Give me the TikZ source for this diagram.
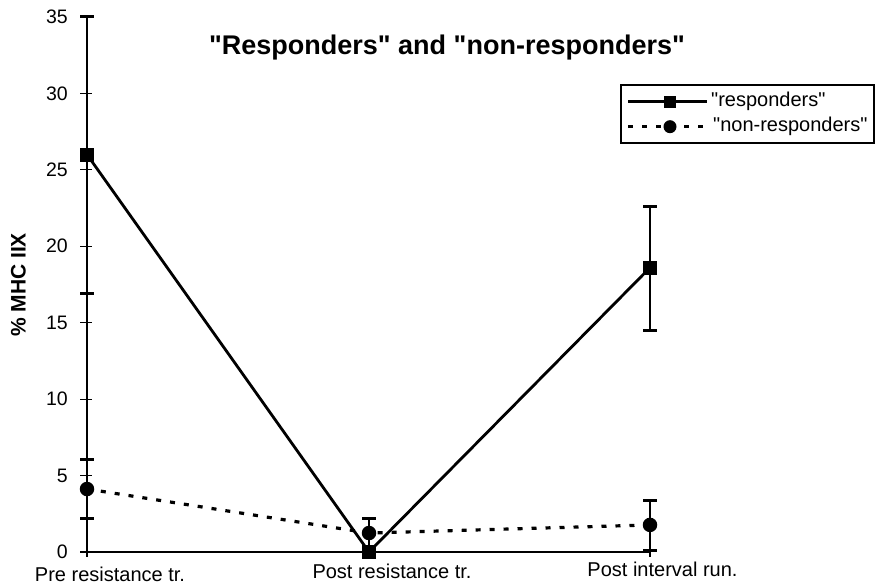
\documentclass[tikz,border=0pt]{standalone}
\usepackage{fontspec}
\newfontfamily\arialfont{Liberation Sans}
\begin{document}
\begin{tikzpicture}[x=1pt,y=1pt,
  axisline/.style={line width=1.2pt},
  respline/.style={line width=2.8pt},
  nonline/.style={line width=3.2pt, dash pattern=on 5pt off 9pt},
  sqmark/.style={rectangle, fill=black, minimum size=14pt, inner sep=0pt},
  cmark/.style={circle, fill=black, minimum size=14.5pt, inner sep=0pt},
  lsqmark/.style={rectangle, fill=black, minimum size=12pt, inner sep=0pt},
  lcmark/.style={circle, fill=black, minimum size=13pt, inner sep=0pt},
  errbar/.style={line width=2.6pt},
  errcap/.style={line width=3pt},
  ticklab/.style={anchor=east, inner sep=0pt, font=\arialfont\fontsize{19.5}{19.5}\selectfont},
  catlab/.style={anchor=base, inner sep=0pt, font=\arialfont\fontsize{20}{20}\selectfont},
  legtext/.style={anchor=west, inner sep=0pt, font=\arialfont\fontsize{20}{20}\selectfont},
]
\useasboundingbox (0,0) rectangle (876,585);

% title and axis label
\node[anchor=base, inner sep=0pt, font=\arialfont\bfseries\fontsize{27}{27}\selectfont] (title) at (447,530)
  {"Responders" and "non-responders"};
\node[rotate=90, inner sep=0pt, font=\arialfont\bfseries\fontsize{21}{21}\selectfont] (ylab) at (18.5,300)
  {\% MHC IIX};

\begin{scope}[shift={(87,33)}, y=15.286pt]
  % axes
  \draw[axisline] (0,0) -- (0,35);
  \draw[axisline] (0,0) -- (563,0);
  \foreach \v in {0,5,...,35} {
    \draw[axisline] (-7,\v) -- (5,\v);
    \node[ticklab] at (-19,\v) {\v};
  }
  \foreach \c in {0,282,563} {
    \draw[axisline] (\c,0) -- (\c,-0.3);
  }

  % data points
  \coordinate (r1) at (0,26);
  \coordinate (r2) at (282,0);
  \coordinate (r3) at (563,18.6);
  \coordinate (n1) at (0,4.12);
  \coordinate (n2) at (282,1.24);
  \coordinate (n3) at (563,1.77);

  % error bars
  \draw[errbar] (0,16.94) -- (0,35);
  \draw[errcap] (-7,35) -- (7,35);
  \draw[errcap] (-7,16.94) -- (7,16.94);
  \draw[errbar] (563,14.52) -- (563,22.57);
  \draw[errcap] (556,22.57) -- (570,22.57);
  \draw[errcap] (556,14.52) -- (570,14.52);

  \draw[errbar] (0,2.16) -- (0,6.08);
  \draw[errcap] (-7,6.08) -- (7,6.08);
  \draw[errcap] (-7,2.16) -- (7,2.16);
  \draw[errbar] (282,0.3) -- (282,2.16);
  \draw[errcap] (275,2.16) -- (289,2.16);
  \draw[errbar] (563,0.08) -- (563,3.36);
  \draw[errcap] (556,3.36) -- (570,3.36);
  \draw[errcap] (556,0.08) -- (570,0.08);

  % series lines
  \draw[nonline] (n1) -- (n2) -- (n3);
  \draw[respline] (r1) -- (r2) -- (r3);

  % markers
  \node[cmark] (N1) at (n1) {};
  \node[cmark] (N2) at (n2) {};
  \node[cmark] (N3) at (n3) {};
  \node[sqmark] (R1) at (r1) {};
  \node[sqmark] (R2) at (r2) {};
  \node[sqmark] (R3) at (r3) {};
\end{scope}

% category labels
\node[catlab] (c1) at (110,3) {Pre resistance tr.};
\node[catlab] (c2) at (392,6) {Post resistance tr.};
\node[catlab] (c3) at (662.5,8) {Post interval run.};

% legend
\draw[line width=1.1pt] (621,442) rectangle (874,500);
\coordinate (la1) at (628,483.3);
\coordinate (lb1) at (707,483.3);
\coordinate (la2) at (628,458.3);
\coordinate (lb2) at (707,458.3);
\draw[respline] (la1) -- (lb1);
\draw[nonline] (la2) -- (lb2);
\node[lsqmark] (LS) at (670,483.3) {};
\node[lcmark] (LC) at (670,458.3) {};
\node[legtext] (lt1) at (711,483.3) {"responders"};
\node[legtext] (lt2) at (713,458.3) {"non-responders"};
\end{tikzpicture}
\end{document}
